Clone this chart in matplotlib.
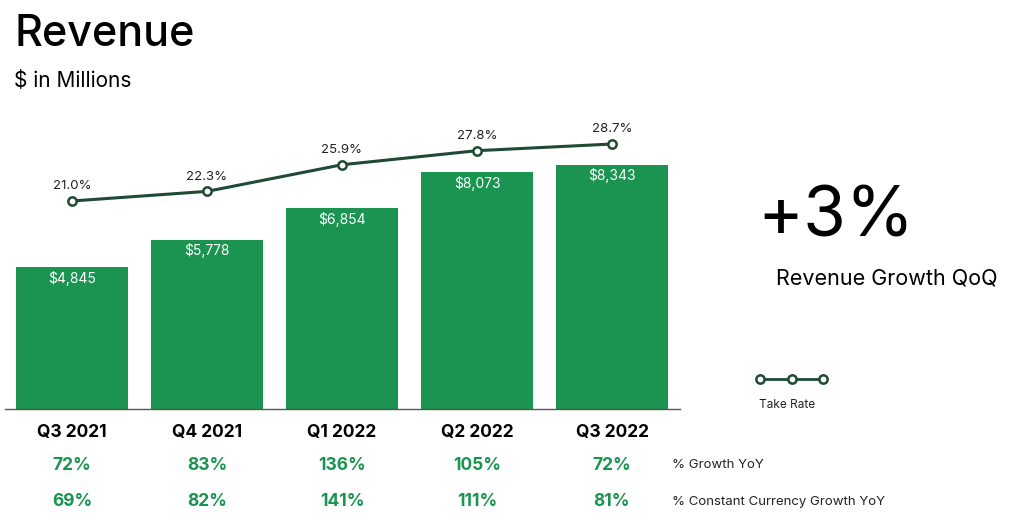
import matplotlib.pyplot as plt
import matplotlib.transforms as mtransforms
import numpy as np

plt.rcParams['font.family'] = ['Inter', 'DejaVu Sans']

quarters   = ["Q3 2021", "Q4 2021", "Q1 2022", "Q2 2022", "Q3 2022"]
revenue    = [4845, 5778, 6854, 8073, 8343]
take_rate  = [21.0, 22.3, 25.9, 27.8, 28.7]
growth_yoy = [72, 83, 136, 105, 72]
cc_growth  = [69, 82, 141, 111, 81]

bar_color  = '#1a9450'
line_color = '#1f4a33'

W, H = 1024, 526
fig = plt.figure(figsize=(W / 100, H / 100), dpi=100)

# axes placed in pixel terms: baseline at y=409, top at y=110
ax = fig.add_axes([4.5 / W, (H - 409) / H, 675 / W, 299 / H])
x = np.arange(len(quarters))

ax.bar(x, revenue, width=0.83, color=bar_color, zorder=2)
ax.set_xlim(-0.5, 4.5)
ax.set_ylim(0, 299 / 0.0293)
for s in ['top', 'right', 'left']:
    ax.spines[s].set_visible(False)
ax.spines['bottom'].set_color('#555555')
ax.spines['bottom'].set_linewidth(1)
ax.set_xticks([])
ax.set_yticks([])

for xi, v in zip(x, revenue):
    ax.annotate("${:,}".format(v), (xi, v), xytext=(0, -8),
                textcoords='offset points', ha='center', va='center',
                color='white', fontsize=10)

# take rate on its own scale
ax2 = ax.twinx()
ax2.set_ylim(21 - (409 - 201) / 7.4, 21 + (201 - 110) / 7.4)
ax2.axis('off')
ax2.plot(x, take_rate, color=line_color, lw=2.2, marker='o', ms=6,
         markerfacecolor='white', markeredgecolor=line_color,
         markeredgewidth=1.8, zorder=3)
for xi, v in zip(x, take_rate):
    ax2.annotate("{:.1f}%".format(v), (xi, v), xytext=(0, 10.5),
                 textcoords='offset points', ha='center', va='center',
                 color='#222222', fontsize=9.5)

# rows under the chart
trans = mtransforms.blended_transform_factory(ax.transData, fig.transFigure)
for xi, q, g, c in zip(x, quarters, growth_yoy, cc_growth):
    fig.text(xi, 1 - 432 / H, q, transform=trans, ha='center', va='center',
             fontsize=12.5, fontweight='bold', color='black')
    fig.text(xi, 1 - 465 / H, "{}%".format(g), transform=trans, ha='center',
             va='center', fontsize=12.5, fontweight='bold', color=bar_color)
    fig.text(xi, 1 - 502 / H, "{}%".format(c), transform=trans, ha='center',
             va='center', fontsize=12.5, fontweight='bold', color=bar_color)
fig.text(672 / W, 1 - 465 / H, "% Growth YoY", ha='left', va='center',
         fontsize=9.5, color='#222222')
fig.text(672 / W, 1 - 502 / H, "% Constant Currency Growth YoY", ha='left',
         va='center', fontsize=9.5, color='#222222')

# headings
fig.text(14 / W, 1 - 35 / H, "Revenue", ha='left', va='center',
         fontsize=31, fontweight='medium', color='black')
fig.text(14 / W, 1 - 81 / H, "$ in Millions", ha='left', va='center',
         fontsize=15, color='black')
fig.text(757 / W, 1 - 218 / H, "+3%", ha='left', va='center',
         fontsize=50, color='black')
fig.text(776 / W, 1 - 278 / H, "Revenue Growth QoQ", ha='left', va='center',
         fontsize=15.5, color='black')

# legend
lax = fig.add_axes([757 / W, 1 - 390 / H, 69 / W, 22 / H])
lax.plot([0, 1, 2], [0, 0, 0], color=line_color, lw=2, marker='o', ms=6,
         markerfacecolor='white', markeredgecolor=line_color,
         markeredgewidth=1.8, clip_on=False)
lax.set_xlim(-0.1, 2.1)
lax.axis('off')
fig.text(759 / W, 1 - 405 / H, "Take Rate", ha='left', va='center',
         fontsize=8.5, color='#222222')

fig.savefig("out.png", dpi=100)
